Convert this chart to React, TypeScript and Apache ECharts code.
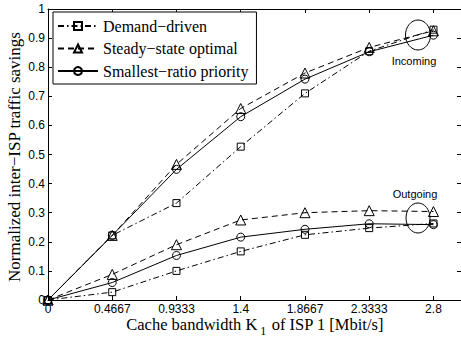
import React, { useEffect, useRef } from "react";
import * as echarts from "echarts";

const xValues = [0, 0.4667, 0.9333, 1.4, 1.8667, 2.3333, 2.8];
const xTickLabels = ["0", "0.4667", "0.9333", "1.4", "1.8667", "2.3333", "2.8"];
const yTicks = [0, 0.1, 0.2, 0.3, 0.4, 0.5, 0.6, 0.7, 0.8, 0.9, 1];

const seriesNames = ["Demand−driven", "Steady−state optimal", "Smallest−ratio priority"];

const demandIncoming = [0, 0.222, 0.333, 0.527, 0.71, 0.855, 0.929];
const steadyIncoming = [0, 0.222, 0.466, 0.658, 0.78, 0.868, 0.925];
const smallestIncoming = [0, 0.222, 0.449, 0.63, 0.759, 0.853, 0.91];

const demandOutgoing = [0, 0.027, 0.1, 0.167, 0.224, 0.247, 0.263];
const steadyOutgoing = [0, 0.088, 0.19, 0.275, 0.3, 0.307, 0.304];
const smallestOutgoing = [0, 0.06, 0.153, 0.216, 0.243, 0.262, 0.259];

const SANS = "Liberation Sans";
const SERIF = "Liberation Serif";

const styles = [
  { symbol: "rect", size: 7, dash: [6, 3, 1.5, 3] },
  { symbol: "triangle", size: 10, dash: [6, 4] },
  { symbol: "circle", size: 8, dash: "solid" },
];

function makeSeries(nameIdx: number, values: number[]) {
  const s = styles[nameIdx];
  return {
    type: "line",
    name: seriesNames[nameIdx],
    data: xValues.map((x, i) => [x, values[i]]),
    symbol: s.symbol,
    symbolSize: s.size,
    showSymbol: true,
    showAllSymbol: true,
    color: "#000",
    lineStyle: { color: "#000", width: 1, type: s.dash },
    itemStyle: { color: "rgba(255,255,255,0)", borderColor: "#000", borderWidth: 1 },
    emphasis: { disabled: true },
  };
}

export default function App() {
  const ref = useRef<HTMLDivElement>(null);
  useEffect(() => {
    if (!ref.current) return;
    const chart = echarts.init(ref.current, undefined, { renderer: "svg" });
    const xAxisBase = {
      type: "value",
      min: 0,
      max: 3,
      splitLine: { show: false },
      axisLine: { show: true, onZero: false, lineStyle: { color: "#000", width: 1 } },
    };
    const yAxisBase = {
      type: "value",
      min: 0,
      max: 1,
      interval: 0.1,
      splitLine: { show: false },
      axisLine: { show: true, onZero: false, lineStyle: { color: "#000", width: 1 } },
    };
    chart.setOption({
      animation: false,
      backgroundColor: "#fff",
      grid: { left: 48, right: -3, top: 9, bottom: 39, containLabel: false },
      xAxis: [
        {
          ...xAxisBase,
          position: "bottom",
          axisTick: { show: true, inside: true, length: 4, customValues: xValues, lineStyle: { color: "#000" } },
          axisLabel: {
            show: true,
            customValues: xValues,
            margin: 3,
            color: "#000",
            fontFamily: SANS,
            fontSize: 12,
            formatter: (v: number) => {
              const i = xValues.findIndex((x) => Math.abs(x - v) < 1e-3);
              return i >= 0 ? xTickLabels[i] : "";
            },
          },
        },
        {
          ...xAxisBase,
          position: "top",
          axisTick: { show: true, inside: true, length: 4, customValues: xValues, lineStyle: { color: "#000" } },
          axisLabel: { show: false },
        },
      ],
      yAxis: [
        {
          ...yAxisBase,
          position: "left",
          axisTick: { show: true, inside: true, length: 4, lineStyle: { color: "#000" } },
          axisLabel: {
            show: true,
            margin: 3,
            color: "#000",
            fontFamily: SANS,
            fontSize: 12,
            formatter: (v: number) => {
              const t = yTicks.find((y) => Math.abs(y - v) < 1e-6);
              return t === undefined ? "" : String(t);
            },
          },
        },
        {
          ...yAxisBase,
          position: "right",
          axisTick: { show: true, inside: true, length: 4, lineStyle: { color: "#000" } },
          axisLabel: { show: false },
        },
      ],
      legend: {
        show: true,
        orient: "vertical",
        left: 53,
        top: 12,
        data: seriesNames,
        backgroundColor: "#fff",
        borderColor: "#000",
        borderWidth: 1,
        borderRadius: 0,
        padding: [6, 8, 5, 4],
        itemWidth: 40,
        itemHeight: 10,
        itemGap: 6.5,
        selectedMode: false,
        textStyle: { color: "#000", fontFamily: SERIF, fontSize: 16, lineHeight: 16 },
      },
      series: [
        makeSeries(0, demandIncoming),
        makeSeries(1, steadyIncoming),
        makeSeries(2, smallestIncoming),
        makeSeries(0, demandOutgoing),
        makeSeries(1, steadyOutgoing),
        makeSeries(2, smallestOutgoing),
      ],
      graphic: [
        {
          type: "ellipse",
          shape: { cx: 418, cy: 35, rx: 12.5, ry: 15 },
          style: { fill: "none", stroke: "#000", lineWidth: 1 },
          z: 100,
        },
        {
          type: "ellipse",
          shape: { cx: 418, cy: 218, rx: 12, ry: 15 },
          style: { fill: "none", stroke: "#000", lineWidth: 1 },
          z: 100,
        },
        {
          type: "text",
          x: 414,
          y: 61,
          style: { text: "Incoming", fill: "#000", font: `11px "${SANS}"`, align: "center", verticalAlign: "middle" },
          z: 100,
        },
        {
          type: "text",
          x: 415,
          y: 194,
          style: { text: "Outgoing", fill: "#000", font: `11px "${SANS}"`, align: "center", verticalAlign: "middle" },
          z: 100,
        },
        {
          type: "text",
          x: 255,
          y: 324,
          style: {
            text: "{a|Cache bandwidth K}{s|1}{a| of ISP 1 [Mbit/s]}",
            fill: "#000",
            align: "center",
            verticalAlign: "middle",
            rich: {
              a: { fontFamily: SERIF, fontSize: 16.5, fill: "#000" },
              s: { fontFamily: SERIF, fontSize: 12, fill: "#000", padding: [14, 1, 0, 3] },
            },
          },
          z: 100,
        },
        {
          type: "text",
          x: 14,
          y: 157,
          rotation: Math.PI / 2,
          style: {
            text: "Normalized inter−ISP traffic savings",
            fill: "#000",
            font: `17px "${SERIF}"`,
            align: "center",
            verticalAlign: "middle",
          },
          z: 100,
        },
      ],
    });
    return () => chart.dispose();
  }, []);
  return (
    <div
      ref={ref}
      style={{ position: "absolute", left: 0, top: 0, width: 461, height: 339, background: "#fff" }}
    />
  );
}
